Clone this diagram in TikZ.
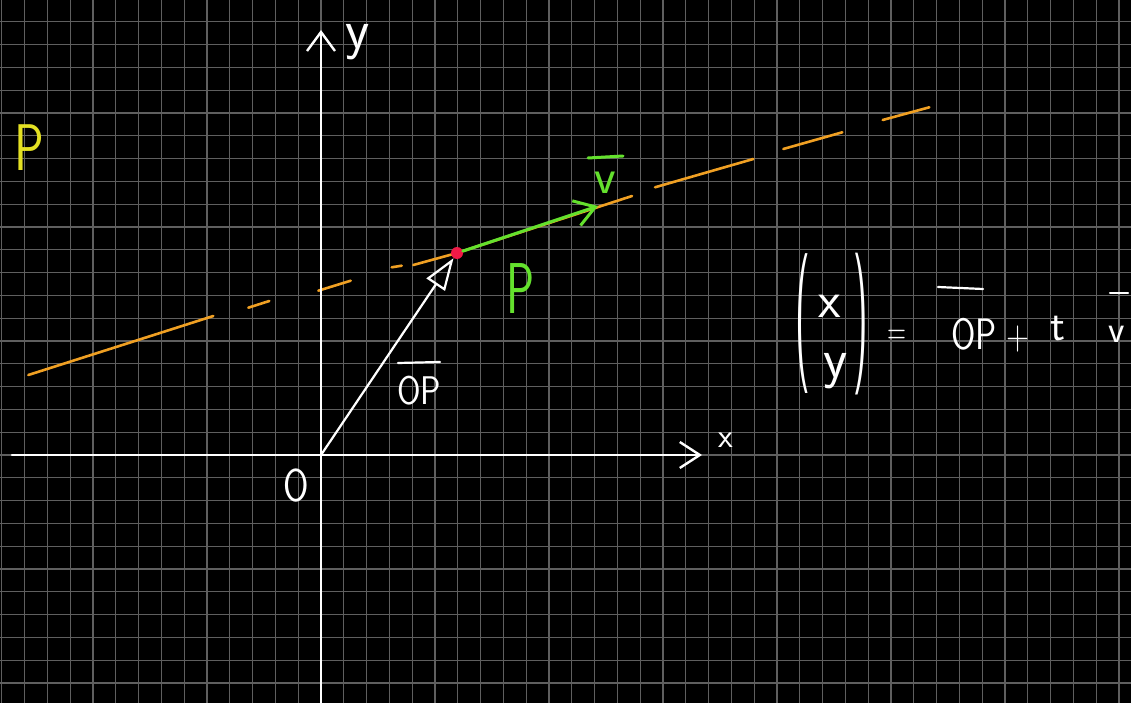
\documentclass[tikz,border=0pt]{standalone}
\usepackage{fontspec}
\usepackage{graphicx}
\usetikzlibrary{arrows.meta}
\definecolor{gridc}{RGB}{95,95,95}
\definecolor{orangel}{RGB}{240,160,35}
\definecolor{yel}{RGB}{228,225,35}
\definecolor{grn}{RGB}{100,225,45}
\definecolor{dotred}{RGB}{240,25,70}
\newcommand\fs[1]{\fontsize{#1}{#1}\selectfont\sffamily}
\newcommand\hs[2]{\scalebox{#1}[1]{#2}}
\pgfdeclarelayer{back}
\pgfdeclarelayer{mid}
\pgfsetlayers{back,mid,main}
\tikzset{
  hand/.style={inner sep=0pt, anchor=center, text=white},
  axisline/.style={white, line width=2.4pt, line cap=round},
  gridline/.style={gridc, line width=1.1pt},
  orangeseg/.style={orangel, line width=2.6pt, line cap=round},
  barline/.style={white, line width=2.2pt, line cap=round},
}
\begin{document}
\begin{tikzpicture}[x=1pt,y=-1pt]
\useasboundingbox (0,0) rectangle (1131,703);
% red point
\node[circle, fill=dotred, minimum size=12pt, inner sep=0pt] (P) at (457,253) {};
\begin{pgfonlayer}{back}
\fill[black] (0,0) rectangle (1131,703);
\foreach \i in {0,...,49} \draw[gridline] ({1.8+22.8*\i},0) -- ({1.8+22.8*\i},703);
\foreach \j in {1,...,30} \draw[gridline] (0,{-1+22.8*\j}) -- (1131,{-1+22.8*\j});
\end{pgfonlayer}
\begin{pgfonlayer}{mid}
\draw[orangeseg] (28.3,375) -- (213.3,316);
\draw[orangeseg] (248.3,307.7) -- (269.3,301);
\draw[orangeseg] (318.3,290.7) -- (350.7,280.7);
\draw[orangeseg] (391.7,267.3) -- (401.7,265.7);
\draw[orangeseg] (413.3,265) -- (P.center);
\draw[orangeseg] (P.center) -- (632,196);
\draw[orangeseg] (655,187.3) -- (753.3,159);
\draw[orangeseg] (783.3,149) -- (842.3,132.3);
\draw[orangeseg] (882.7,120) -- (929.3,107.3);
\end{pgfonlayer}
% axes
\coordinate (O) at (321,455);
\coordinate (ybot) at (321,703);
\coordinate (ytop) at (321,30);
\coordinate (xl) at (12,455);
\coordinate (xr) at (702,455);
\draw[axisline, -{Straight Barb[length=19pt,width=28pt]}] (ybot) -- (ytop);
\draw[axisline, -{Straight Barb[length=20pt,width=26pt]}] (xl) -- (xr);
\node[hand] (ylab) at (358,42) {\fs{56}y};
\node[hand] (xlab) at (726,440) {\fs{34}x};
\node[hand] (olab) at (296,486) {\fs{46}\hs{0.8}{O}};
% vectors
\draw[white, line width=2.2pt, line cap=round, -{Triangle[open, length=32pt, width=22pt, line width=2.2pt]}] (O) -- (P);
\coordinate (vtip) at (598,206);
\draw[grn, line width=3pt, line cap=round, -{Straight Barb[length=20pt,width=26pt]}] (P) -- (vtip);
% labels
\node[hand, text=yel] (pyel) at (29,148) {\fs{66}\hs{0.75}{P}};
\node[hand, text=grn] (pgrn) at (521,289) {\fs{72}\hs{0.65}{P}};
\node[hand] (oplab) at (419,391) {\fs{40}\hs{0.85}{OP}};
\draw[barline] (398,363) -- (440,362);
\node[hand, text=grn] (vlab) at (605,183) {\fs{50}v};
\draw[grn, line width=3pt, line cap=round] (588,158) -- (623,156);
% equation
\node[hand] (lp) at (803,324) {\fs{40}\scalebox{1}[3.5]{(}};
\node[hand] (ex) at (830,306) {\fs{52}x};
\node[hand] (ey) at (836,371) {\fs{56}y};
\node[hand] (rp) at (861,324) {\fs{40}\scalebox{1}[3.55]{)}};
\node[hand] (eq) at (897,337) {\fs{40}\hs{0.65}{=}};
\node[hand] (eop) at (974,334) {\fs{44}\hs{0.8}{OP}};
\draw[barline] (938,287) -- (983,289);
\node[hand] (plus) at (1018,339) {\fs{42}\hs{0.75}{+}};
\node[hand] (et) at (1058,329) {\fs{44}t};
\node[hand] (ev) at (1117,334) {\fs{38}v};
\draw[barline] (1110,293) -- (1128,293);
\end{tikzpicture}
\end{document}
